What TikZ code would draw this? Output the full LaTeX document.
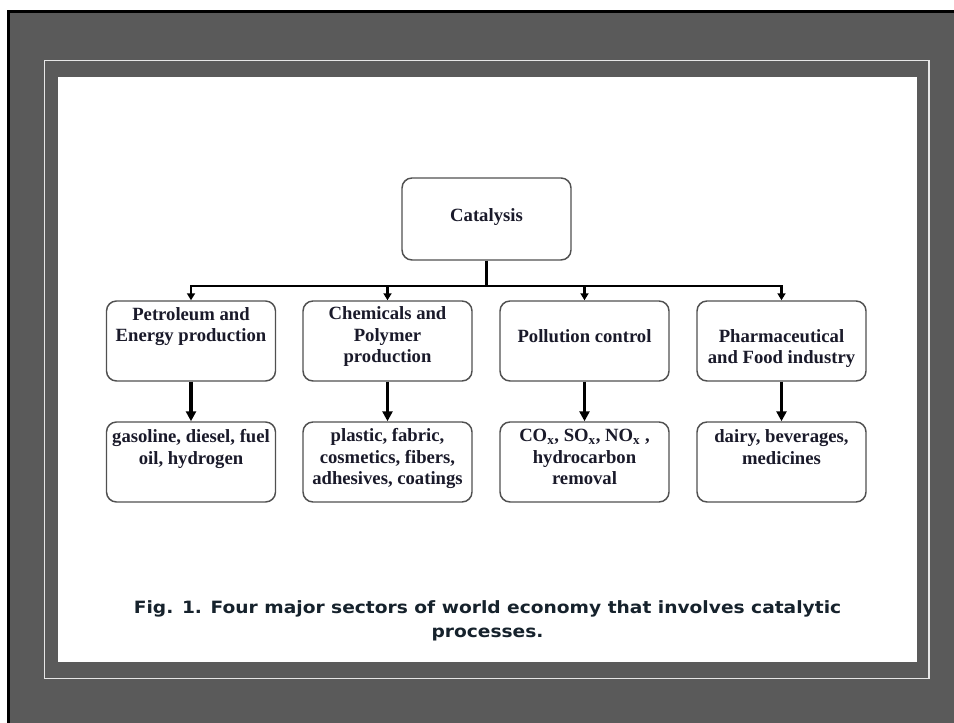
\documentclass[tikz,border=0pt]{standalone}
\usepackage{fontspec}
\setmainfont{Liberation Serif}
\newfontfamily\capfont[FakeStretch=1.1]{DejaVu Sans}
\usetikzlibrary{arrows.meta}
\definecolor{framegray}{HTML}{5A5A5A}
\definecolor{linewhite}{HTML}{E6E6E6}
\definecolor{boxc}{HTML}{505050}
\definecolor{txtc}{HTML}{1A1A2A}
\definecolor{capc}{HTML}{16222C}
\begin{document}
\begin{tikzpicture}[x=0.75pt,y=-0.75pt,
  box/.style={draw=boxc, line width=1.1pt, rounded corners=7.5pt, fill=white,
    minimum width=126.75pt, minimum height=60pt, inner sep=0pt},
  txt/.style={text=txtc, font=\fontsize{14}{16.2}\selectfont\bfseries, align=center, inner sep=0pt},
  captext/.style={text=capc, font=\capfont\bfseries\fontsize{12.7}{18}\selectfont, align=center, inner sep=0pt},
  branch/.style={line width=1.9pt, -{Triangle[width=6pt,length=5.25pt]}},
  drop/.style={line width=2.5pt, -{Triangle[width=7.5pt,length=7.5pt]}}]
\useasboundingbox (0,0) rectangle (954,723);
\clip (0,0) rectangle (954,723);
\fill[white] (0,0) rectangle (954,723);
\filldraw[fill=framegray, draw=black, line width=2.25pt] (8.5,11.5) rectangle (1000,800);
\draw[linewhite, line width=1.1pt] (44.5,60.5) rectangle (929,678.5);
\fill[white] (58,77) rectangle (917,662);

% boxes
\node[box, minimum height=61.5pt] (cat) at (486.5,219) {};
\node[txt] (catt) at (486.5,217) {Catalysis};

\node[box] (p1) at (191,341) {};
\node[box] (p2) at (387.5,341) {};
\node[box] (p3) at (584.5,341) {};
\node[box] (p4) at (781.5,341) {};
\node[box] (r1) at (191,462) {};
\node[box] (r2) at (387.5,462) {};
\node[box] (r3) at (584.5,462) {};
\node[box] (r4) at (781.5,462) {};

\node[txt] (p1t) at (191,326.5) {\strut Petroleum and\\\strut Energy production};
\node[txt] (p2t) at (387.5,337) {\strut Chemicals and\\\strut Polymer\\\strut production};
\node[txt] (p3t) at (584.5,338) {\strut Pollution control};
\node[txt] (p4t) at (781.5,348.5) {\strut Pharmaceutical\\\strut and Food industry};

\node[txt] (r1t) at (191,449) {\strut gasoline, diesel, fuel\\\strut oil, hydrogen};
\node[txt] (r2t) at (387.5,459) {\strut plastic, fabric,\\\strut cosmetics, fibers,\\\strut adhesives, coatings};
\node[txt] (r3t) at (584.5,459) {\strut CO\textsubscript{x}, SO\textsubscript{x}, NO\textsubscript{x} ,\\\strut hydrocarbon\\\strut removal};
\node[txt] (r4t) at (781.5,449) {\strut dairy, beverages,\\\strut medicines};

% connectors
\coordinate (j) at (486.5,286);
\draw[line width=2.5pt] (cat.south) -- (j);
\draw[branch] (j) -| (p1.north);
\draw[branch] (j) -| (p2.north);
\draw[branch] (j) -| (p3.north);
\draw[branch] (j) -| (p4.north);
\draw[drop] (p1) -- (r1);
\draw[drop] (p2) -- (r2);
\draw[drop] (p3) -- (r3);
\draw[drop] (p4) -- (r4);

% caption
\node[captext] (caption) at (487.5,621) {\strut Fig. 1. Four major sectors of world economy that involves catalytic\\\strut processes.};
\end{tikzpicture}
\end{document}
